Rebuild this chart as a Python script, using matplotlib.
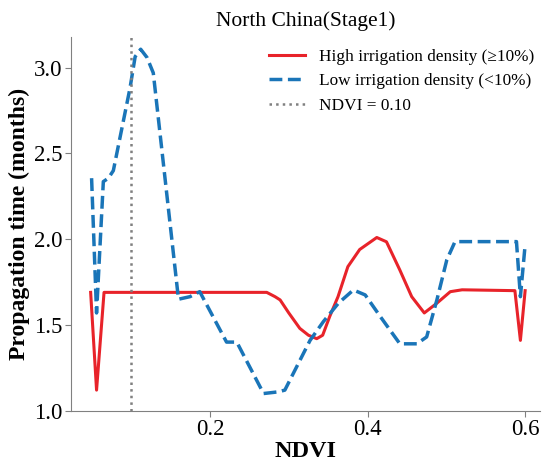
import matplotlib
matplotlib.use("Agg")
import matplotlib.pyplot as plt

plt.rcParams['font.family'] = ['Liberation Serif', 'DejaVu Serif']

# High irrigation density (>=10%)
high_ndvi = [0.0485, 0.056, 0.0655, 0.272, 0.2825, 0.289, 0.300, 0.314, 0.325,
             0.3355, 0.343, 0.352, 0.3625, 0.375, 0.390, 0.4117, 0.424, 0.441,
             0.456, 0.472, 0.488, 0.505, 0.520, 0.587, 0.594, 0.600]
high_time = [1.69, 1.12, 1.69, 1.69, 1.665, 1.646, 1.57, 1.48, 1.44,
             1.42, 1.44, 1.55, 1.665, 1.84, 1.94, 2.01, 1.985, 1.82,
             1.665, 1.57, 1.627, 1.694, 1.705, 1.70, 1.41, 1.70]

# Low irrigation density (<10%)
low_ndvi = [0.0497, 0.056, 0.0646, 0.071, 0.0773, 0.0984, 0.105, 0.112, 0.120,
            0.128, 0.160, 0.1746, 0.187, 0.221, 0.234, 0.268, 0.287, 0.295,
            0.327, 0.344, 0.363, 0.382, 0.397, 0.416, 0.441, 0.4625, 0.475,
            0.488, 0.5006, 0.511, 0.589, 0.594, 0.600]
low_time = [2.356, 1.57, 2.336, 2.356, 2.40, 2.88, 3.065, 3.108, 3.06,
            2.97, 1.65, 1.665, 1.694, 1.40, 1.40, 1.10, 1.11, 1.12,
            1.41, 1.52, 1.627, 1.704, 1.675, 1.55, 1.39, 1.39, 1.43,
            1.646, 1.88, 1.986, 1.986, 1.665, 1.967]

ndvi_threshold = 0.10

fig = plt.figure(figsize=(5.5, 4.67), dpi=100)
ax = fig.add_axes([0.129, 0.1206, 0.853, 0.8004])

ax.plot(high_ndvi, high_time, color='#e8232a', lw=2.2,
        label='High irrigation density (\u226510%)')
ax.plot(low_ndvi, low_time, color='#1a75b8', lw=2.5, ls='--',
        label='Low irrigation density (<10%)')
ax.axvline(ndvi_threshold, color='#808080', lw=1.8, ls=':',
           label='NDVI = 0.10')

ax.set_xlim(0.0235, 0.619)
ax.set_ylim(1.0, 3.18)
ax.set_xticks([0.2, 0.4, 0.6])
ax.set_yticks([1.0, 1.5, 2.0, 2.5, 3.0])

for side in ['top', 'right']:
    ax.spines[side].set_visible(False)
for side in ['left', 'bottom']:
    ax.spines[side].set_color('#808080')
ax.tick_params(labelsize=16.5, length=4, color='#808080', pad=2)

ax.set_xlabel('NDVI', fontsize=17.5, fontweight='bold', labelpad=1)
ax.set_ylabel('Propagation time (months)', fontsize=17, fontweight='bold', labelpad=3)
ax.set_title('North China(Stage1)', fontsize=15.5, pad=8)

ax.legend(loc='upper right', frameon=False, fontsize=12.4, handlelength=2.1,
          handletextpad=0.8, bbox_to_anchor=(1.02, 1.01), labelspacing=0.5)

fig.savefig('out.png', dpi=100)
